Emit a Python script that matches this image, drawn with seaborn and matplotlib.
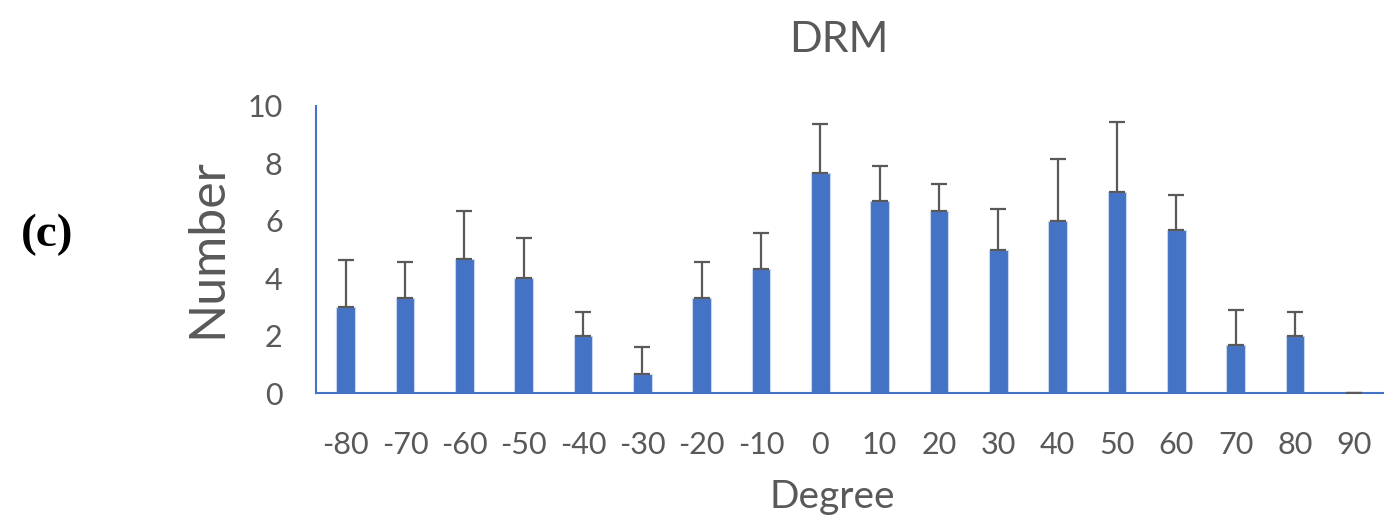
import matplotlib
matplotlib.use("Agg")
import matplotlib.pyplot as plt
import seaborn as sns
import numpy as np
import pandas as pd

degrees = ["-80", "-70", "-60", "-50", "-40", "-30", "-20", "-10", "0", "10",
           "20", "30", "40", "50", "60", "70", "80", "90"]
counts = [3.0, 3.33, 4.67, 4.0, 2.0, 0.67, 3.33, 4.33, 7.67, 6.67,
          6.33, 5.0, 6.0, 7.0, 5.67, 1.67, 2.0, 0.0]
errors = [1.62, 1.23, 1.68, 1.41, 0.81, 0.93, 1.23, 1.24, 1.71, 1.23,
          0.94, 1.4, 2.16, 2.45, 1.24, 1.23, 0.81, 0.0]
y_ticks = [0, 2, 4, 6, 8, 10]

sns.set_style("white")
plt.rcParams['font.family'] = ['Lato', 'DejaVu Sans']

BLUE = "#4472C4"
GRAY = "#595959"

fig = plt.figure(figsize=(13.84, 5.23), dpi=100)
W, H = 1384, 523
left, right, top, bottom = 316, 1384, 105.7, 393.3
ax = fig.add_axes([left / W, 1 - bottom / H, (right - left) / W, (bottom - top) / H])

df = pd.DataFrame({"Degree": degrees, "Number": counts})
sns.barplot(data=df, x="Degree", y="Number", order=degrees, color=BLUE,
            width=0.315, saturation=1, edgecolor="#c9d6ef", linewidth=0.8, ax=ax)

xs = np.arange(len(degrees))
ax.errorbar(xs, counts, yerr=[np.zeros(len(errors)), errors], fmt="none",
            ecolor=GRAY, elinewidth=1.6, capsize=6, capthick=1.6, zorder=3)

ax.set_xlim(-0.5, len(degrees) - 0.5)
ax.set_ylim(0, 10)
ax.set_yticks(y_ticks)
ax.set_yticklabels([str(t) for t in y_ticks])
ax.tick_params(axis="both", length=0, colors=GRAY, labelsize=22)
ax.tick_params(axis="y", pad=24)
ax.tick_params(axis="x", pad=27)
for s in ["top", "right"]:
    ax.spines[s].set_visible(False)
for s in ["left", "bottom"]:
    ax.spines[s].set_color(BLUE)
    ax.spines[s].set_linewidth(1.5)

ax.set_xlabel("")
ax.set_ylabel("")
fig.text(832 / W, 1 - 497 / H, "Degree", ha="center", va="center", fontsize=28, color=GRAY)
fig.text(207 / W, 1 - 248 / H, "Number", ha="center", va="center", fontsize=36,
         color=GRAY, rotation=90)
fig.text(839 / W, 1 - 40 / H, "DRM", ha="center", va="center", fontsize=31, color=GRAY)
fig.text(47 / W, 1 - 235 / H, "(c)", ha="center", va="center", fontsize=34,
         fontweight="bold", family="Liberation Serif", color="black")

fig.savefig("out.png", dpi=100)
